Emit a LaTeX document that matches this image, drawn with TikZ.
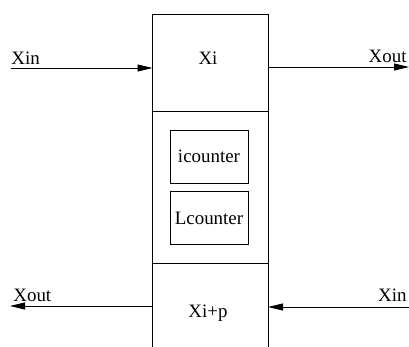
\documentclass[tikz,border=0pt]{standalone}
\usepackage{fontspec}
\setmainfont{Liberation Serif}
\usetikzlibrary{arrows.meta}
\begin{document}
\begin{tikzpicture}[x=1bp,y=-1bp,line width=0.8bp,
    lbl/.style={font=\fontsize{19}{22}\selectfont,inner sep=0pt},
    ctr/.style={draw,minimum width=78bp,minimum height=53bp,inner sep=0pt,
      font=\fontsize{19}{22}\selectfont},
    sig/.style={-{Triangle[length=15bp,width=7bp]}}]
    \useasboundingbox (0,0) rectangle (409,347);
    % Column
    \draw (152.5,347) -- (152.5,14.5) -- (268,14.5) -- (268,347);
    \draw (152.5,111) -- (269,111);
    \draw (152.5,263) -- (269,263);

    % Counters
    \node[ctr] (icnt) at (209,156.5) {icounter};
    \node[ctr] (lcnt) at (209,218) {Lcounter};

    % Cells
    \node[lbl,anchor=base] (xi) at (208,64) {Xi};
    \node[lbl,anchor=base] (xip) at (208,317) {Xi+p};

    % Signals
    \coordinate (inA) at (11,68);
    \coordinate (inAend) at (152.5,68);
    \coordinate (outA) at (268,67);
    \coordinate (outAend) at (409,67);
    \coordinate (outB) at (152.5,306);
    \coordinate (outBend) at (10,306);
    \coordinate (inB) at (409,307);
    \coordinate (inBend) at (268,307);
    \draw[sig] (inA) -- (inAend);
    \draw[sig] (outA) -- (outAend);
    \draw[sig] (outB) -- (outBend);
    \draw[sig] (inB) -- (inBend);
    \node[lbl,anchor=base west] (xinA) at (11,64) {Xin};
    \node[lbl,anchor=base east] (xoutA) at (407,62) {Xout};
    \node[lbl,anchor=base west] (xoutB) at (13,301.5) {Xout};
    \node[lbl,anchor=base east] (xinB) at (407,301) {Xin};
\end{tikzpicture}
\end{document}
